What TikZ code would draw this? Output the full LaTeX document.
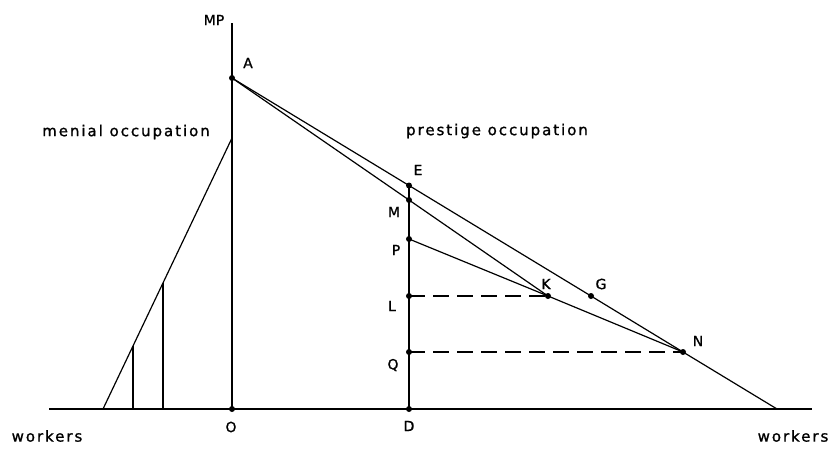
\documentclass[tikz,border=0pt]{standalone}
\usepackage{fontspec}
\newfontfamily\wordfont[LetterSpace=13,FakeBold=1.2]{DejaVu Sans}
\newfontfamily\letterfont[FakeBold=1.2]{DejaVu Sans}
\usetikzlibrary{positioning}
\tikzset{
  word/.style={font=\wordfont\fontsize{15}{18}\selectfont, inner sep=0pt},
  pt/.style={font=\letterfont\fontsize{14}{17}\selectfont, inner sep=0pt},
  curve/.style={line width=1.2pt},
  level/.style={line width=1.5pt, dash pattern=on 16pt off 8pt},
}

\begin{document}
\begin{tikzpicture}[x=1pt,y=-1pt]
    \useasboundingbox (0,0) rectangle (834,448);
    % axes
    \coordinate (O) at (232,409);
    \coordinate (wl) at (49,409);
    \coordinate (wr) at (812,409);
    \coordinate (top) at (232,23);
    \coordinate (D) at (409,409);
    \draw[line width=1.3pt] (wl) -- (wr);
    \draw[line width=1.2pt] (O) -- (top);
    % menial occupation
    \coordinate (m0) at (103,409);
    \coordinate (m1) at (232,138);
    \coordinate (m2) at (133,346);
    \coordinate (m3) at (163,283);
    \draw[curve] (m0) -- (m1);
    \draw[curve] (m2) -- (m2 |- O);
    \draw[curve] (m3) -- (m3 |- O);
    % prestige occupation
    \coordinate (A) at (232,78);
    \coordinate (Z) at (777,409);
    \coordinate (E) at (409,185.5);
    \coordinate (G) at (591,296);
    \coordinate (N) at (683,352);
    \coordinate (K) at (548,296);
    \coordinate (M) at (409,200);
    \coordinate (P) at (409,239);
    \coordinate (L) at (409,296);
    \coordinate (Q) at (409,352);
    \draw[curve] (A) -- (E) -- (G) -- (N) -- (Z);
    \draw[curve] (A) -- (M) -- (K);
    \draw[curve] (P) -- (K) -- (N);
    \draw[line width=1.6pt] (E) -- (D);
    \draw[level] (L) -- (K);
    \draw[level] (Q) -- (N);
    \foreach \p in {A,E,M,P,L,Q,D,O,K,G,N}
        \fill (\p) circle (3pt);
    % labels
    \node[pt] (lMP) at (214,20) {MP};
    \node[pt] (lA) at (248,63) {A};
    \node[pt] (lE) at (418,170) {E};
    \node[pt] (lM) at (394,212) {M};
    \node[pt] (lP) at (396,250) {P};
    \node[pt] (lL) at (392,306) {L};
    \node[pt] (lQ) at (393,365) {Q};
    \node[pt] (lD) at (409,426) {D};
    \node[pt] (lO) at (231,427) {O};
    \node[pt] (lK) at (546,284) {K};
    \node[pt] (lG) at (601,284) {G};
    \node[pt] (lN) at (698,341) {N};
    \node[word] (wL) at (47,436) {workers};
    \node[word] (wR) at (793,436) {workers};
    \node[word] (menial) at (126,132) {menial occupation};
    \node[word] (prestige) at (497,131) {prestige occupation};
\end{tikzpicture}
\end{document}
